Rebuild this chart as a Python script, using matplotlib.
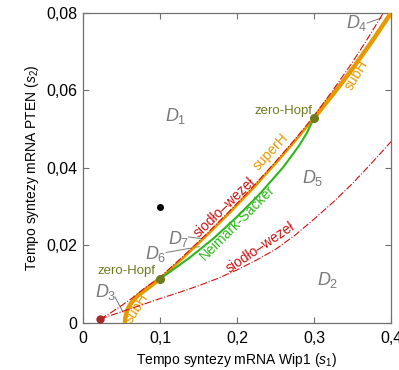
import numpy as np
import matplotlib.pyplot as plt

plt.rcParams['font.family'] = ['Liberation Sans', 'DejaVu Sans']
plt.rcParams['mathtext.fontset'] = 'custom'
plt.rcParams['mathtext.rm'] = 'Liberation Sans'
plt.rcParams['mathtext.it'] = 'Liberation Sans:italic'

# orange Hopf curve (subH / superH / subH)
hopf_x = [0.0545, 0.0548, 0.0556, 0.057, 0.059, 0.062, 0.066, 0.071, 0.077, 0.084, 0.092, 0.10,
          0.13, 0.16, 0.19, 0.22, 0.25, 0.275, 0.30, 0.325, 0.35, 0.375, 0.40]
hopf_y = [0.0, 0.001, 0.002, 0.003, 0.004, 0.005, 0.006, 0.007, 0.008, 0.009, 0.0102, 0.0114,
          0.0168, 0.0225, 0.0284, 0.0346, 0.0412, 0.0469, 0.0529, 0.0591, 0.0656, 0.0726, 0.080]

# upper saddle-node (dash-dot)
sn1_x = [0.022, 0.035, 0.05, 0.065, 0.08, 0.10, 0.13, 0.16, 0.19, 0.22, 0.25, 0.275, 0.30,
         0.325, 0.35, 0.37, 0.39]
sn1_y = [0.001, 0.0025, 0.0045, 0.0066, 0.009, 0.0118, 0.0172, 0.0229, 0.0288, 0.035, 0.0416,
         0.0473, 0.0534, 0.0602, 0.0673, 0.0735, 0.080]

# lower saddle-node (dash-dot)
sn2_x = [0.022, 0.035, 0.05, 0.075, 0.10, 0.125, 0.15, 0.175, 0.20, 0.225, 0.25, 0.275, 0.30,
         0.325, 0.35, 0.375, 0.40]
sn2_y = [0.001, 0.0019, 0.0029, 0.0046, 0.0063, 0.0079, 0.0096, 0.0115, 0.0137, 0.0162, 0.019,
         0.0226, 0.0268, 0.0312, 0.036, 0.0413, 0.0468]

# Neimark-Sacker
ns_x = [0.10, 0.12, 0.14, 0.17, 0.20, 0.23, 0.26, 0.28, 0.29, 0.30]
ns_y = [0.0114, 0.0142, 0.0171, 0.0219, 0.0274, 0.0334, 0.0402, 0.0456, 0.0488, 0.0529]

zh_x = [0.10, 0.30]
zh_y = [0.0114, 0.0529]

orange = '#E59A00'
red = '#CC1111'
green = '#2DB71A'
olive = '#6F7A1E'
gray = '#7A7A7A'

fig = plt.figure(figsize=(3.99, 3.70), dpi=100)
ax = fig.add_axes([0.208, 0.127, 0.772, 0.838])

hx = np.array(hopf_x)
hy = np.array(hopf_y)
lo = hx <= 0.10
hi = hx >= 0.30
mid = (hx >= 0.10) & (hx <= 0.30)
ax.plot(hx[lo], hy[lo], color=orange, lw=3.2, solid_capstyle='butt', zorder=3)
ax.plot(hx[mid], hy[mid], color=orange, lw=2.0, zorder=3)
ax.plot(hx[hi], hy[hi], color=orange, lw=3.2, solid_capstyle='butt', zorder=3)

ax.plot(sn1_x, sn1_y, color=red, lw=0.8, ls='-.', zorder=4)
ax.plot(sn2_x, sn2_y, color=red, lw=0.8, ls='-.', zorder=4)
ax.plot(ns_x, ns_y, color=green, lw=1.5, zorder=3)

ax.plot(zh_x, zh_y, 'o', color=olive, ms=5.5, zorder=5)
ax.plot([0.022], [0.001], 'o', color='#A52A2A', ms=5, zorder=5)
ax.plot([0.1], [0.03], 'o', color='black', ms=4, zorder=5)

# region labels
dfont = dict(color=gray, fontsize=13, ha='center', va='center')
ax.text(0.12, 0.0535, r'$D_1$', **dfont)
ax.text(0.318, 0.011, r'$D_2$', **dfont)
ax.text(0.029, 0.008, r'$D_3$', **dfont)
ax.text(0.356, 0.0775, r'$D_4$', **dfont)
ax.text(0.298, 0.0375, r'$D_5$', **dfont)
ax.text(0.095, 0.0178, r'$D_6$', **dfont)
ax.text(0.124, 0.0218, r'$D_7$', **dfont)

# pointers
ax.plot([0.0416, 0.052], [0.0067, 0.0028], color=gray, lw=0.7)
ax.plot([0.369, 0.388], [0.0774, 0.0787], color=gray, lw=0.7)
ax.plot([0.108, 0.151], [0.0182, 0.0197], color=gray, lw=0.7)
ax.plot([0.137, 0.153], [0.0222, 0.0218], color=gray, lw=0.7)

# curve labels
lfont = dict(fontsize=10, ha='center', va='center', rotation_mode='anchor')
ax.text(0.057, 0.0134, 'zero-Hopf', color=olive, fontsize=9.5, ha='center', va='center')
ax.text(0.260, 0.0547, 'zero-Hopf', color=olive, fontsize=9.5, ha='center', va='center')
ax.text(0.070, 0.0039, 'subH', color=orange, rotation=58, **lfont)
ax.text(0.355, 0.064, 'subH', color=orange, rotation=59, **lfont)
ax.text(0.244, 0.0442, 'superH', color=orange, rotation=47, **lfont)
ax.text(0.184, 0.0297, 'siodło–wezeł', color=red, rotation=44, **lfont)
ax.text(0.201, 0.0258, 'Neimark-Sacker', color=green, rotation=45, **lfont)
ax.text(0.230, 0.0194, 'siodło–wezeł', color=red, rotation=34, **lfont)

ax.set_xlim(0, 0.4)
ax.set_ylim(0, 0.08)
ax.set_xticks([0, 0.1, 0.2, 0.3, 0.4])
ax.set_xticklabels(['0', '0,1', '0,2', '0,3', '0,4'])
ax.set_yticks([0, 0.02, 0.04, 0.06, 0.08])
ax.set_yticklabels(['0', '0,02', '0,04', '0,06', '0,08'])
ax.tick_params(direction='in', top=True, right=True, length=4, width=0.8, color='#707070',
               labelsize=11.5)
ax.tick_params(axis='x', pad=6)
ax.tick_params(axis='y', pad=4)
for s in ax.spines.values():
    s.set_color('#707070')
    s.set_linewidth(0.9)

ax.set_xlabel(r'Tempo syntezy mRNA Wip1 ($s_1$)', fontsize=10, labelpad=3)
ax.set_ylabel(r'Tempo syntezy mRNA PTEN ($s_2$)', fontsize=10, labelpad=4)

fig.savefig('out.png', dpi=100)
